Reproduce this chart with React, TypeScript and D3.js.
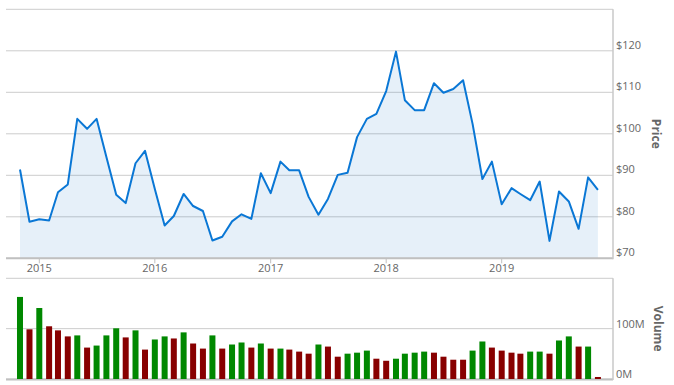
import React from "react";
import * as d3 from "d3";

const startYear = 2014;
const startMonth = 10; // November (0-based)
const prices = [
  91.4, 78.8, 79.4, 79.1, 85.9, 87.8, 103.6, 101.2, 103.6, 94.4,
  85.3, 83.3, 92.9, 95.9, 86.7, 77.9, 80.2, 85.5, 82.6, 81.4,
  74.3, 75.2, 78.9, 80.6, 79.5, 90.5, 85.7, 93.3, 91.2, 91.2,
  84.8, 80.5, 84.3, 90.1, 90.6, 99.2, 103.6, 104.8, 110.3, 119.8,
  108.1, 105.7, 105.7, 112.2, 109.9, 110.8, 112.9, 102.4, 89.1, 93.3,
  83.0, 86.9, 85.5, 84.0, 88.5, 74.2, 86.1, 83.7, 77.1, 89.5, 86.5,
];
const volumes = [
  163, 98.7, 141, 104.7, 96.6, 84.6, 86.6, 62.4, 66.4, 86.6,
  100.7, 82.6, 96.6, 58.4, 78.5, 84.6, 80.5, 92.6, 70.5, 60.4,
  86.6, 60.4, 68.5, 72.5, 62.4, 70.5, 60.4, 60.4, 58.4, 54.4,
  50.3, 68.5, 64.4, 44.3, 50.3, 52.3, 56.4, 40.3, 36.2, 40.3,
  50.3, 52.3, 54.4, 52.3, 44.3, 38.3, 38.3, 56.4, 74.5, 62.4,
  56.4, 52.3, 50.3, 54.4, 54.4, 50.3, 76.5, 84.6, 64.4, 64.4, 4,
];
// 1 = up (green), 0 = down (red)
const upDown = [
  1, 0, 1, 0, 0, 0, 1, 0, 1, 1,
  1, 0, 1, 0, 1, 1, 0, 1, 0, 0,
  1, 0, 1, 1, 0, 1, 0, 1, 0, 0,
  0, 1, 0, 0, 1, 1, 1, 0, 0, 1,
  1, 1, 1, 0, 0, 0, 0, 1, 1, 0,
  0, 0, 0, 1, 1, 0, 1, 1, 0, 1, 0,
];
const priceTicks = [70, 80, 90, 100, 110, 120, 130];
const volumeTicks = [0, 100, 200];
const yearTicks = [2015, 2016, 2017, 2018, 2019];

const W = 674;
const H = 385;
const left = 6;
const right = 613;
const pTop = 9.3;
const pBottom = 258.3;
const vTop = 278.3;
const vBottom = 379;
const font = "'Open Sans', 'Noto Sans', sans-serif";
const labelColor = "#666";
const gridColor = "#cccccc";

export default function App() {
  const dates = prices.map((_, i) => new Date(startYear, startMonth + i, 1));
  const x = d3
    .scaleTime()
    .domain([new Date(2015, 0, 1), new Date(2019, 0, 1)])
    .range([39.3, 501.7]);
  const yP = d3.scaleLinear().domain([70, 130]).range([pBottom, pTop]);
  const yV = d3.scaleLinear().domain([0, 200]).range([vBottom, vTop]);

  const line = d3
    .line<number>()
    .x((_, i) => x(dates[i]))
    .y((d) => yP(d));
  const area = d3
    .area<number>()
    .x((_, i) => x(dates[i]))
    .y0(pBottom)
    .y1((d) => yP(d));

  const barW = 6;

  return (
    <svg
      width={W}
      height={H}
      style={{ position: "absolute", left: 0, top: 0, background: "#fff" }}
      fontFamily={font}
    >
      {/* price grid */}
      {priceTicks.map((t) => (
        <line key={"pg" + t} x1={left} x2={right} y1={yP(t)} y2={yP(t)} stroke={gridColor} strokeWidth={1} />
      ))}
      <path d={area(prices) || ""} fill="#0a6cc8" fillOpacity={0.1} />
      <path d={line(prices) || ""} fill="none" stroke="#0a77d5" strokeWidth={2} strokeLinejoin="round" />
      {/* price axes */}
      <line x1={left} x2={right} y1={pBottom} y2={pBottom} stroke="#c0c0c0" strokeWidth={2} />
      <line x1={right} x2={right} y1={pTop} y2={pBottom + 1} stroke="#c8c8c8" strokeWidth={1.5} />
      {yearTicks.map((yr) => {
        const px = x(new Date(yr, 0, 1));
        return (
          <g key={"yr" + yr}>
            <line x1={px} x2={px} y1={pBottom} y2={pBottom + 5} stroke="#c0c0c0" strokeWidth={1} />
            <text x={px} y={272} textAnchor="middle" fontSize={11} fill={labelColor}>
              {yr}
            </text>
          </g>
        );
      })}
      {priceTicks
        .filter((t) => t < 130)
        .map((t) => (
          <text key={"pl" + t} x={616} y={yP(t) - 2} fontSize={11} fill={labelColor}>
            {"$" + t}
          </text>
        ))}
      <text
        transform={`translate(652,${(pTop + pBottom) / 2}) rotate(90)`}
        textAnchor="middle"
        fontSize={12}
        fontWeight="bold"
        fill={labelColor}
      >
        Price
      </text>

      {/* volume grid */}
      {volumeTicks.map((t) => (
        <line key={"vg" + t} x1={left} x2={right} y1={yV(t)} y2={yV(t)} stroke={gridColor} strokeWidth={1} />
      ))}
      <line x1={left} x2={right} y1={vBottom + 0.5} y2={vBottom + 0.5} stroke="#c0c0c0" strokeWidth={2} />
      {volumes.map((v, i) => (
        <rect
          key={"b" + i}
          x={x(dates[i]) - barW / 2}
          y={yV(v)}
          width={barW}
          height={vBottom - yV(v)}
          fill={upDown[i] ? "#008800" : "#880000"}
        />
      ))}
      <line x1={right} x2={right} y1={vTop} y2={vBottom + 1} stroke="#c8c8c8" strokeWidth={1.5} />
      {volumeTicks
        .filter((t) => t < 200)
        .map((t) => (
          <text key={"vl" + t} x={616} y={yV(t) - 1} fontSize={11} fill={labelColor}>
            {t + "M"}
          </text>
        ))}
      <text
        transform={`translate(654,${(vTop + vBottom) / 2}) rotate(90)`}
        textAnchor="middle"
        fontSize={12}
        fontWeight="bold"
        fill={labelColor}
      >
        Volume
      </text>
    </svg>
  );
}
